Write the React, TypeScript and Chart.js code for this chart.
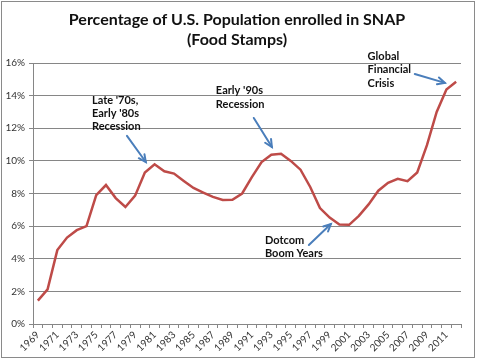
import React, { useEffect, useRef } from "react";
import { Chart, registerables } from "chart.js";

Chart.register(...registerables);

const titleLines = ["Percentage of U.S. Population enrolled in SNAP", "(Food Stamps)"];

const years = [
  "1969", "1970", "1971", "1972", "1973", "1974", "1975", "1976", "1977", "1978",
  "1979", "1980", "1981", "1982", "1983", "1984", "1985", "1986", "1987", "1988",
  "1989", "1990", "1991", "1992", "1993", "1994", "1995", "1996", "1997", "1998",
  "1999", "2000", "2001", "2002", "2003", "2004", "2005", "2006", "2007", "2008",
  "2009", "2010", "2011", "2012",
];

const snapPct = [
  1.43, 2.12, 4.53, 5.3, 5.75, 6.0, 7.9, 8.52, 7.72, 7.17,
  7.87, 9.28, 9.79, 9.36, 9.22, 8.77, 8.34, 8.06, 7.79, 7.6,
  7.62, 8.0, 9.0, 9.93, 10.38, 10.44, 10.0, 9.46, 8.4, 7.11,
  6.52, 6.1, 6.08, 6.63, 7.33, 8.17, 8.66, 8.9, 8.76, 9.29,
  10.96, 13.0, 14.38, 14.85,
];

const yTicks = [0, 2, 4, 6, 8, 10, 12, 14, 16];

// annotations: text lines, text anchor [category index, %], arrow from/to [category index, %]
const noteLines = [
  ["Late '70s,", "Early '80s", "Recession"],
  ["Early '90s", "Recession"],
  ["Dotcom", "Boom Years"],
  ["Global", "Financial", "Crisis"],
];
const noteTextAt = [[5.56, 13.73], [18.3, 14.3], [23.34, 5.15], [33.9, 16.39]];
const arrowFrom = [[9.16, 11.53], [22.2, 12.63], [27.86, 4.84], [38.75, 15.33]];
const arrowTo = [[11.1, 9.93], [24.06, 10.85], [30.12, 6.13], [41.84, 14.78]];

const FONT = "Lato, 'Noto Sans', sans-serif";

const framePlugin = {
  id: "frame",
  beforeDraw(chart: any) {
    const ctx = chart.ctx;
    ctx.save();
    ctx.fillStyle = "#ffffff";
    ctx.fillRect(0, 0, chart.width, chart.height);
    ctx.strokeStyle = "#8a8a8a";
    ctx.lineWidth = 1;
    ctx.strokeRect(1.5, 1.5, 473, 356);
    ctx.fillStyle = "#111111";
    ctx.textAlign = "center";
    ctx.textBaseline = "alphabetic";
    ctx.font = `bold 16px ${FONT}`;
    ctx.fillText(titleLines[0], 237, 24.5);
    ctx.fillText(titleLines[1], 237, 44.5);
    ctx.restore();
  },
  afterDatasetsDraw(chart: any) {
    const ctx = chart.ctx;
    const xs = chart.scales.x;
    const ys = chart.scales.y;
    ctx.save();
    ctx.fillStyle = "#111111";
    ctx.font = `bold 11px ${FONT}`;
    ctx.textAlign = "left";
    ctx.textBaseline = "middle";
    noteLines.forEach((lines, i) => {
      const tx = xs.getPixelForValue(noteTextAt[i][0]);
      const ty = ys.getPixelForValue(noteTextAt[i][1]);
      lines.forEach((t, j) => ctx.fillText(t, tx, ty + j * 13.3));
      const x1 = xs.getPixelForValue(arrowFrom[i][0]);
      const y1 = ys.getPixelForValue(arrowFrom[i][1]);
      const x2 = xs.getPixelForValue(arrowTo[i][0]);
      const y2 = ys.getPixelForValue(arrowTo[i][1]);
      const ang = Math.atan2(y2 - y1, x2 - x1);
      ctx.strokeStyle = "#4a7ebb";
      ctx.lineWidth = 2;
      ctx.lineCap = "round";
      ctx.beginPath();
      ctx.moveTo(x1, y1);
      ctx.lineTo(x2, y2);
      ctx.stroke();
      const h = 8;
      const spread = 0.45;
      ctx.beginPath();
      ctx.moveTo(x2 - h * Math.cos(ang - spread), y2 - h * Math.sin(ang - spread));
      ctx.lineTo(x2, y2);
      ctx.lineTo(x2 - h * Math.cos(ang + spread), y2 - h * Math.sin(ang + spread));
      ctx.stroke();
    });
    ctx.restore();
  },
};

export default function App() {
  const ref = useRef<HTMLCanvasElement | null>(null);
  useEffect(() => {
    document.body.style.margin = "0";
    const chart = new Chart(ref.current as HTMLCanvasElement, {
      type: "line",
      data: {
        labels: years,
        datasets: [
          {
            data: snapPct,
            borderColor: "#be4b48",
            borderWidth: 2.5,
            pointRadius: 0,
            tension: 0,
            fill: false,
          },
        ],
      },
      options: {
        animation: false,
        responsive: false,
        devicePixelRatio: 1,
        layout: { padding: { left: 0, right: 19, top: 63, bottom: 0 } },
        plugins: { legend: { display: false }, title: { display: false }, tooltip: { enabled: false } },
        scales: {
          x: {
            type: "category",
            offset: true,
            afterFit(scale: any) {
              scale.height = 39;
            },
            grid: {
              display: true,
              drawOnChartArea: false,
              drawTicks: true,
              tickLength: 4,
              offset: true,
              color: "#868686",
            },
            border: { display: true, color: "#868686", width: 1 },
            ticks: {
              autoSkip: false,
              minRotation: 45,
              maxRotation: 45,
              padding: 1,
              color: "#333333",
              font: { family: FONT, size: 10 },
              callback: (_v: any, i: number) => (i % 2 === 0 ? years[i] : ""),
            },
          },
          y: {
            min: 0,
            max: 16,
            afterFit(scale: any) {
              scale.width = 33;
            },
            afterBuildTicks(scale: any) {
              scale.ticks = yTicks.map((v) => ({ value: v }));
            },
            grid: { color: "#868686", tickLength: 4, lineWidth: 1 },
            border: { display: true, color: "#868686", width: 1 },
            ticks: {
              padding: 4,
              color: "#333333",
              font: { family: FONT, size: 10 },
              callback: (v: any) => `${v}%`,
            },
          },
        },
      },
      plugins: [framePlugin],
    } as any);
    return () => chart.destroy();
  }, []);
  return (
    <div style={{ width: 480, height: 363 }}>
      <canvas ref={ref} width={480} height={363} style={{ display: "block" }} />
    </div>
  );
}
